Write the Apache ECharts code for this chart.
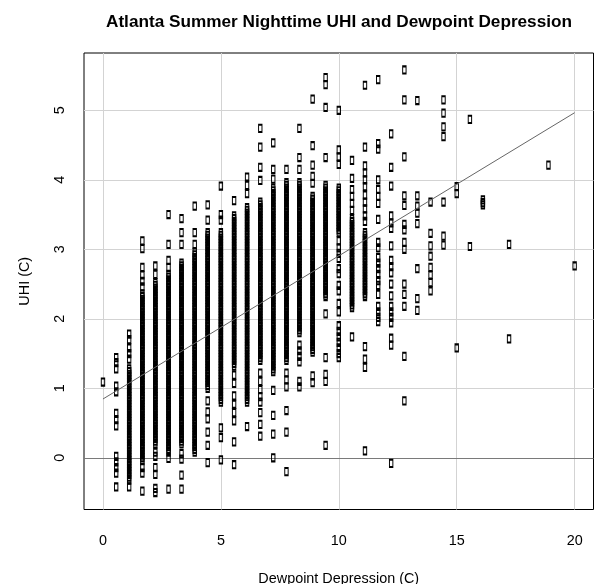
<!DOCTYPE html>
<html>
<head>
<meta charset="utf-8">
<script src="https://cdn.jsdelivr.net/npm/echarts@6/dist/echarts.min.js"></script>
<style>
  html, body { margin: 0; padding: 0; background: #fff; }
  #chart { width: 594px; height: 584px; }
</style>
</head>
<body>
<div id="chart"></div>
<script>
// Dewpoint depression levels (C); each level has its own list of nightly UHI values (C)
const dewpointDepression = [0, 0.56, 1.11, 1.67, 2.22, 2.78, 3.33, 3.89, 4.44, 5.00, 5.56, 6.11, 6.67, 7.22,
  7.78, 8.33, 8.89, 9.44, 10.00, 10.56, 11.11, 11.67, 12.22, 12.78, 13.33, 13.89, 14.44, 15.00, 15.56, 16.11,
  17.22, 18.89, 20.00];

const uhiDd0000 = [1.09];
const uhiDd0056 = [1.44,1.37,1.28,1.03,0.95,0.64,0.55,0.46,0.02,-0.06,-0.14,-0.22,-0.42];
const uhiDd0111 = [1.78,1.7,1.58,1.5,1.42,1.28,1.24,1.2,1.16,1.12,1.08,1.04,1,0.96,0.92,0.88,0.84,0.8,0.76,0.72,0.68,0.64,0.6,0.56,0.52,0.48,0.44,0.4,0.36,0.32,0.28,0.24,0.2,0.16,0.12,0.08,0.04,0,-0.04,-0.08,-0.12,-0.16,-0.2,-0.24,-0.28,-0.32,-0.42];
const uhiDd0167 = [3.12,3.01,2.74,2.63,2.54,2.46,2.36,2.32,2.28,2.24,2.2,2.16,2.12,2.08,2.04,2,1.96,1.92,1.88,1.84,1.8,1.76,1.72,1.68,1.64,1.6,1.56,1.52,1.48,1.44,1.4,1.36,1.32,1.28,1.24,1.2,1.16,1.12,1.08,1.04,1,0.96,0.92,0.88,0.84,0.8,0.76,0.72,0.68,0.64,0.6,0.56,0.52,0.48,0.44,0.4,0.36,0.32,0.28,0.24,0.2,0.16,0.12,0.08,0.04,0,-0.04,-0.14,-0.22,-0.48];
const uhiDd0222 = [2.76,2.64,2.52,2.48,2.44,2.4,2.36,2.32,2.28,2.24,2.2,2.16,2.12,2.08,2.04,2,1.96,1.92,1.88,1.84,1.8,1.76,1.72,1.68,1.64,1.6,1.56,1.52,1.48,1.44,1.4,1.36,1.32,1.28,1.24,1.2,1.16,1.12,1.08,1.04,1,0.96,0.92,0.88,0.84,0.8,0.76,0.72,0.68,0.64,0.6,0.56,0.52,0.48,0.44,0.4,0.36,0.32,0.28,0.24,0.2,0.08,0.02,-0.14,-0.24,-0.44,-0.5];
const uhiDd0278 = [3.5,3.07,2.84,2.74,2.64,2.6,2.56,2.52,2.48,2.44,2.4,2.36,2.32,2.28,2.24,2.2,2.16,2.12,2.08,2.04,2,1.96,1.92,1.88,1.84,1.8,1.76,1.72,1.68,1.64,1.6,1.56,1.52,1.48,1.44,1.4,1.36,1.32,1.28,1.24,1.2,1.16,1.12,1.08,1.04,1,0.96,0.92,0.88,0.84,0.8,0.76,0.72,0.68,0.64,0.6,0.56,0.52,0.48,0.44,0.4,0.36,0.32,0.28,0.24,0.2,0.16,0.12,0.08,-0.01,-0.45];
const uhiDd0333 = [3.44,3.24,3.07,2.8,2.76,2.72,2.68,2.64,2.6,2.56,2.52,2.48,2.44,2.4,2.36,2.32,2.28,2.24,2.2,2.16,2.12,2.08,2.04,2,1.96,1.92,1.88,1.84,1.8,1.76,1.72,1.68,1.64,1.6,1.56,1.52,1.48,1.44,1.4,1.36,1.32,1.28,1.24,1.2,1.16,1.12,1.08,1.04,1,0.96,0.92,0.88,0.84,0.8,0.76,0.72,0.68,0.64,0.6,0.56,0.52,0.48,0.44,0.4,0.36,0.32,0.28,0.24,0.2,0.06,-0.02,-0.25,-0.45];
const uhiDd0389 = [3.62,3.24,3.07,2.96,2.92,2.88,2.84,2.8,2.76,2.72,2.68,2.64,2.6,2.56,2.52,2.48,2.44,2.4,2.36,2.32,2.28,2.24,2.2,2.16,2.12,2.08,2.04,2,1.96,1.92,1.88,1.84,1.8,1.76,1.72,1.68,1.64,1.6,1.56,1.52,1.48,1.44,1.4,1.36,1.32,1.28,1.24,1.2,1.16,1.12,1.08,1.04,1,0.96,0.92,0.88,0.84,0.8,0.76,0.72,0.68,0.64,0.6,0.56,0.52,0.48,0.44,0.4,0.36,0.32,0.28,0.24,0.2,0.16,0.12,0.08];
const uhiDd0444 = [3.64,3.42,3.24,3.2,3.16,3.12,3.08,3.04,3,2.96,2.92,2.88,2.84,2.8,2.76,2.72,2.68,2.64,2.6,2.56,2.52,2.48,2.44,2.4,2.36,2.32,2.28,2.24,2.2,2.16,2.12,2.08,2.04,2,1.96,1.92,1.88,1.84,1.8,1.76,1.72,1.68,1.64,1.6,1.56,1.52,1.48,1.44,1.4,1.36,1.32,1.28,1.24,1.2,1.16,1.12,1.08,1.04,1,0.82,0.66,0.56,0.37,0.18,-0.07];
const uhiDd0500 = [3.91,3.5,3.42,3.24,3.2,3.16,3.12,3.08,3.04,3,2.96,2.92,2.88,2.84,2.8,2.76,2.72,2.68,2.64,2.6,2.56,2.52,2.48,2.44,2.4,2.36,2.32,2.28,2.24,2.2,2.16,2.12,2.08,2.04,2,1.96,1.92,1.88,1.84,1.8,1.76,1.72,1.68,1.64,1.6,1.56,1.52,1.48,1.44,1.4,1.36,1.32,1.28,1.24,1.2,1.16,1.12,1.08,1.04,1,0.96,0.92,0.88,0.84,0.8,0.43,0.29,-0.03];
const uhiDd0556 = [3.7,3.48,3.44,3.4,3.36,3.32,3.28,3.24,3.2,3.16,3.12,3.08,3.04,3,2.96,2.92,2.88,2.84,2.8,2.76,2.72,2.68,2.64,2.6,2.56,2.52,2.48,2.44,2.4,2.36,2.32,2.28,2.24,2.2,2.16,2.12,2.08,2.04,2,1.96,1.92,1.88,1.84,1.8,1.76,1.72,1.68,1.64,1.6,1.56,1.52,1.48,1.44,1.4,1.36,1.32,1.19,1.07,0.89,0.77,0.65,0.53,0.23,-0.1];
const uhiDd0611 = [4.04,3.92,3.8,3.6,3.56,3.52,3.48,3.44,3.4,3.36,3.32,3.28,3.24,3.2,3.16,3.12,3.08,3.04,3,2.96,2.92,2.88,2.84,2.8,2.76,2.72,2.68,2.64,2.6,2.56,2.52,2.48,2.44,2.4,2.36,2.32,2.28,2.24,2.2,2.16,2.12,2.08,2.04,2,1.96,1.92,1.88,1.84,1.8,1.76,1.72,1.68,1.64,1.6,1.56,1.52,1.48,1.44,1.4,1.36,1.32,1.28,1.24,1.2,1.16,1.12,1.08,1.04,1,0.96,0.92,0.88,0.84,0.8,0.45];
const uhiDd0667 = [4.74,4.47,4.18,3.99,3.68,3.64,3.6,3.56,3.52,3.48,3.44,3.4,3.36,3.32,3.28,3.24,3.2,3.16,3.12,3.08,3.04,3,2.96,2.92,2.88,2.84,2.8,2.76,2.72,2.68,2.64,2.6,2.56,2.52,2.48,2.44,2.4,2.36,2.32,2.28,2.24,2.2,2.16,2.12,2.08,2.04,2,1.96,1.92,1.88,1.84,1.8,1.76,1.72,1.68,1.64,1.6,1.56,1.52,1.48,1.44,1.4,1.22,1.1,0.98,0.88,0.8,0.65,0.48,0.31];
const uhiDd0722 = [4.53,4.15,4.01,3.88,3.84,3.8,3.76,3.72,3.68,3.64,3.6,3.56,3.52,3.48,3.44,3.4,3.36,3.32,3.28,3.24,3.2,3.16,3.12,3.08,3.04,3,2.96,2.92,2.88,2.84,2.8,2.76,2.72,2.68,2.64,2.6,2.56,2.52,2.48,2.44,2.4,2.36,2.32,2.28,2.24,2.2,2.16,2.12,2.08,2.04,2,1.96,1.92,1.88,1.84,1.8,1.76,1.72,1.68,1.64,1.6,1.56,1.52,1.48,1.44,1.4,1.36,1.32,1.28,1.24,0.97,0.61,0.34,0];
const uhiDd0778 = [4.15,3.96,3.92,3.88,3.84,3.8,3.76,3.72,3.68,3.64,3.6,3.56,3.52,3.48,3.44,3.4,3.36,3.32,3.28,3.24,3.2,3.16,3.12,3.08,3.04,3,2.96,2.92,2.88,2.84,2.8,2.76,2.72,2.68,2.64,2.6,2.56,2.52,2.48,2.44,2.4,2.36,2.32,2.28,2.24,2.2,2.16,2.12,2.08,2.04,2,1.96,1.92,1.88,1.84,1.8,1.76,1.72,1.68,1.64,1.6,1.56,1.52,1.48,1.44,1.4,1.22,1.12,1.02,0.68,0.37,-0.2];
const uhiDd0833 = [4.74,4.32,4.15,3.96,3.92,3.88,3.84,3.8,3.76,3.72,3.68,3.64,3.6,3.56,3.52,3.48,3.44,3.4,3.36,3.32,3.28,3.24,3.2,3.16,3.12,3.08,3.04,3,2.96,2.92,2.88,2.84,2.8,2.76,2.72,2.68,2.64,2.6,2.56,2.52,2.48,2.44,2.4,2.36,2.32,2.28,2.24,2.2,2.16,2.12,2.08,2.04,2,1.96,1.92,1.88,1.84,1.8,1.62,1.54,1.46,1.38,1.1,1.02];
const uhiDd0889 = [5.16,4.49,4.21,4.05,3.95,3.76,3.72,3.68,3.64,3.6,3.56,3.52,3.48,3.44,3.4,3.36,3.32,3.28,3.24,3.2,3.16,3.12,3.08,3.04,3,2.96,2.92,2.88,2.84,2.8,2.76,2.72,2.68,2.64,2.6,2.56,2.52,2.48,2.44,2.4,2.36,2.32,2.28,2.24,2.2,2.16,2.12,2.08,2.04,2,1.96,1.92,1.88,1.84,1.8,1.76,1.72,1.68,1.64,1.6,1.56,1.52,1.18,1.08];
const uhiDd0944 = [5.47,5.37,5.04,4.32,3.92,3.88,3.84,3.8,3.76,3.72,3.68,3.64,3.6,3.56,3.52,3.48,3.44,3.4,3.36,3.32,3.28,3.24,3.2,3.16,3.12,3.08,3.04,3,2.96,2.92,2.88,2.84,2.8,2.76,2.72,2.68,2.64,2.6,2.56,2.52,2.48,2.44,2.4,2.36,2.32,2.07,1.44,1.2,1.1,0.18];
const uhiDd1000 = [5,4.43,4.33,4.22,3.88,3.84,3.8,3.76,3.72,3.68,3.64,3.6,3.56,3.52,3.48,3.44,3.4,3.36,3.32,3.28,3.24,3.12,3.02,2.94,2.87,2.72,2.65,2.48,2.4,2.22,2.1,1.9,1.82,1.74,1.66,1.58,1.5,1.44];
const uhiDd1056 = [4.28,4.02,3.86,3.76,3.66,3.56,3.44,3.4,3.36,3.32,3.28,3.24,3.2,3.16,3.12,3.08,3.04,3,2.96,2.92,2.88,2.84,2.8,2.76,2.72,2.68,2.64,2.6,2.56,2.52,2.48,2.44,2.4,2.36,2.32,2.28,2.24,2.2,2.16,1.74];
const uhiDd1111 = [5.36,4.47,4.2,4.1,4,3.9,3.78,3.68,3.58,3.48,3.4,3.24,3.2,3.16,3.12,3.08,3.04,3,2.96,2.92,2.88,2.84,2.8,2.76,2.72,2.68,2.64,2.6,2.56,2.52,2.48,2.44,2.4,2.36,2.32,1.6,1.42,1.3,0.1];
const uhiDd1167 = [5.44,4.52,4.44,4,3.86,3.76,3.66,3.43,3.1,3.02,2.88,2.8,2.72,2.64,2.55,2.48,2.35,2.18,2.1,2.02,1.96];
const uhiDd1222 = [4.66,4.18,3.91,3.48,3.38,3.3,3.05,2.84,2.75,2.66,2.5,2.33,2.18,2.1,2.02,1.94,1.72,1.62,-0.08];
const uhiDd1278 = [5.58,5.15,4.33,3.77,3.63,3.36,3.28,3.1,3,2.5,2.35,2.18,1.46,0.82];
const uhiDd1333 = [5.14,3.77,3.62,3.52,3.37,2.72,2.29,2.12];
const uhiDd1389 = [3.68,3.23,3.05,2.9,2.74,2.63,2.52,2.4];
const uhiDd1444 = [5.15,4.96,4.76,4.62,3.68,3.19,3.06];
const uhiDd1500 = [3.9,3.8,1.58];
const uhiDd1556 = [4.87,3.04];
const uhiDd1611 = [3.71,3.67,3.64];
const uhiDd1722 = [3.07,1.71];
const uhiDd1889 = [4.21];
const uhiDd2000 = [2.76];

const uhiColumns = [uhiDd0000, uhiDd0056, uhiDd0111, uhiDd0167, uhiDd0222, uhiDd0278, uhiDd0333, uhiDd0389,
  uhiDd0444, uhiDd0500, uhiDd0556, uhiDd0611, uhiDd0667, uhiDd0722, uhiDd0778, uhiDd0833, uhiDd0889, uhiDd0944,
  uhiDd1000, uhiDd1056, uhiDd1111, uhiDd1167, uhiDd1222, uhiDd1278, uhiDd1333, uhiDd1389, uhiDd1444, uhiDd1500,
  uhiDd1556, uhiDd1611, uhiDd1722, uhiDd1889, uhiDd2000];

// Least-squares fit of UHI on dewpoint depression, drawn over the data range
const fitEnds = [[0, 0.846], [20, 4.965]];

const xTicks = [0, 5, 10, 15, 20];
const yTicks = [0, 1, 2, 3, 4, 5];

const points = [];
dewpointDepression.forEach((dd, i) => {
  uhiColumns[i].forEach(u => points.push([dd, u]));
});

const FONT = '"Liberation Sans", Arial, Helvetica, sans-serif';
const chart = echarts.init(document.getElementById('chart'), null, { renderer: 'canvas' });

const gridLines = xTicks.map(v => ({ xAxis: v }))
  .concat(yTicks.filter(v => v !== 0).map(v => ({ yAxis: v })));

chart.setOption({
  animation: false,
  backgroundColor: '#fff',
  title: {
    text: 'Atlanta Summer Nighttime UHI and Dewpoint Depression',
    left: 334,
    textAlign: 'center',
    top: 9,
    textStyle: { fontFamily: FONT, fontSize: 17.2, fontWeight: 'bold', color: '#000' }
  },
  grid: {
    left: 84, right: 0.5, top: 53, bottom: 74.5,
    outerBoundsMode: 'none',
    show: true, borderColor: '#000', borderWidth: 1, backgroundColor: 'transparent'
  },
  xAxis: {
    type: 'value', min: -0.805, max: 20.8,
    splitLine: { show: false },
    axisLine: { show: false },
    axisTick: { show: true, customValues: xTicks, length: 9, lineStyle: { color: '#000', width: 1 } },
    axisLabel: { customValues: xTicks, margin: 25, fontFamily: FONT, fontSize: 14.4, color: '#000' },
    name: 'Dewpoint Depression (C)', nameLocation: 'middle', nameGap: 63, nameMoveOverlap: false,
    nameTextStyle: { fontFamily: FONT, fontSize: 14.4, color: '#000' }
  },
  yAxis: {
    type: 'value', min: -0.744, max: 5.824,
    splitLine: { show: false },
    axisLine: { show: false },
    axisTick: { show: true, customValues: yTicks, length: 9, lineStyle: { color: '#000', width: 1 } },
    axisLabel: { customValues: yTicks, rotate: 90, margin: 17, fontFamily: FONT, fontSize: 14.4, color: '#000' },
    name: 'UHI (C)', nameLocation: 'middle', nameGap: 52, nameMoveOverlap: false,
    nameTextStyle: { fontFamily: FONT, fontSize: 14.4, color: '#000' }
  },
  series: [
    {
      type: 'line', data: [], silent: true, z: 1,
      markLine: {
        silent: true, animation: false, z: 1,
        symbol: ['none', 'none'],
        label: { show: false },
        emphasis: { disabled: true },
        lineStyle: { color: '#d3d3d3', width: 1, type: 'solid' },
        data: gridLines.concat([{ yAxis: 0, lineStyle: { color: '#7a7a7a', width: 1, type: 'solid' } }])
      }
    },
    {
      type: 'scatter', data: points, z: 3, silent: true,
      symbol: 'rect', symbolSize: [3.4, 7.2],
      progressive: 0, large: false,
      itemStyle: { color: 'rgba(0,0,0,0)', borderColor: '#000', borderWidth: 1.4, opacity: 1 },
      emphasis: { disabled: true }
    },
    {
      type: 'line', data: fitEnds, z: 4, silent: true,
      symbol: 'none',
      lineStyle: { color: '#666', width: 1 },
      emphasis: { disabled: true }
    }
  ]
});
</script>
</body>
</html>
